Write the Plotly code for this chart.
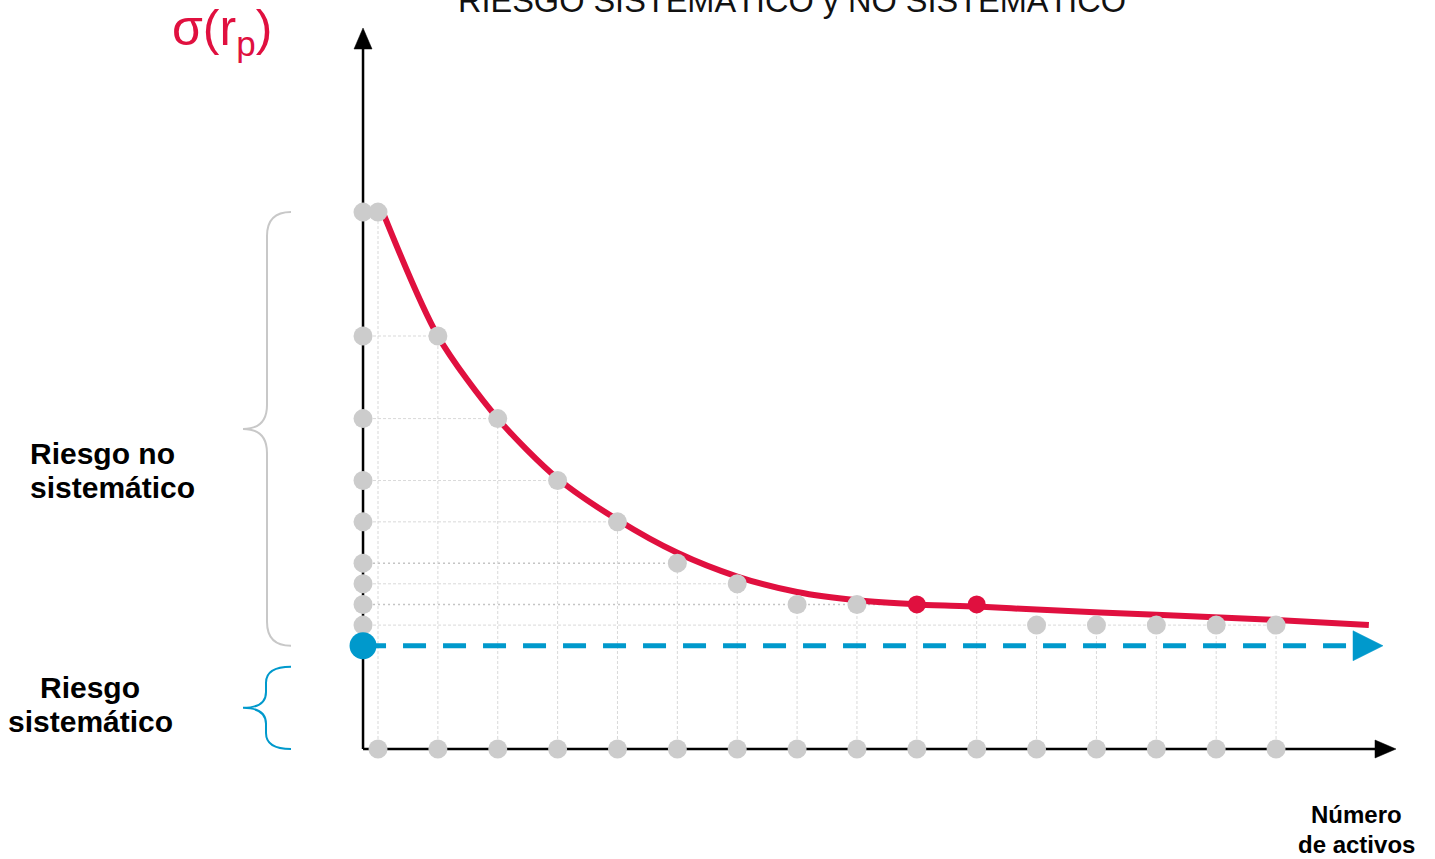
import plotly.graph_objects as go

# ---------------- data ----------------
n_assets = list(range(1, 17))
risk_points = [26, 20, 16, 13, 11, 9, 8, 7, 7, 7, 7, 6, 6, 6, 6, 6]
highlight_assets = [10, 11]
yaxis_levels = [26, 20, 16, 13, 11, 9, 8, 7, 6]
dotted_levels = [9, 7]
systematic_risk = 5
curve_n = [1.08, 2, 3, 4, 5, 6, 7, 8, 9, 10, 11, 12, 14, 16, 17.55]
curve_risk = [26, 20, 16, 13.1, 11.1, 9.5, 8.35, 7.6, 7.2, 7.0, 6.9, 6.75, 6.5, 6.25, 6.0]
title_text = "RIESGO SISTEMÁTICO y NO SISTEMÁTICO"
axis_pos_n = 0.75

# ---------------- scale helpers (pixel <-> data) ----------------
W, H = 1435, 859
PX_PER_N = 59.87
PX_PER_V = 20.65
N1_PX = 378
V0_PY = 749


def n_of(px):
    return 1 + (px - N1_PX) / PX_PER_N


def v_of(py):
    return (V0_PY - py) / PX_PER_V


def px_of(n):
    return N1_PX + (n - 1) * PX_PER_N


def py_of(v):
    return V0_PY - v * PX_PER_V


RED = "#e0103f"
BLUE = "#0099cc"
GRAY_DOT = "#cccccc"
GRID = "#d9d9d9"

fig = go.Figure()

# vertical guides from x-axis up to each point
vx, vy = [], []
for n, r in zip(n_assets, risk_points):
    vx += [n, n, None]
    vy += [0, r, None]
fig.add_trace(go.Scatter(x=vx, y=vy, mode="lines", hoverinfo="skip",
                         line=dict(color=GRID, width=1, dash="3px,2px")))

# horizontal guides from y-axis to the last point at that level
hx, hy, dx, dy = [], [], [], []
for lvl in yaxis_levels:
    last_n = max(n for n, r in zip(n_assets, risk_points) if r == lvl)
    if lvl in dotted_levels:
        dx += [axis_pos_n, last_n, None]
        dy += [lvl, lvl, None]
    else:
        hx += [axis_pos_n, last_n, None]
        hy += [lvl, lvl, None]
fig.add_trace(go.Scatter(x=hx, y=hy, mode="lines", hoverinfo="skip",
                         line=dict(color=GRID, width=1, dash="3px,2px")))
fig.add_trace(go.Scatter(x=dx, y=dy, mode="lines", hoverinfo="skip",
                         line=dict(color="#c4c4c4", width=1.5, dash="2px,3px")))

# axes lines
y_top = v_of(46)
x_end = n_of(1377)
fig.add_trace(go.Scatter(x=[axis_pos_n, axis_pos_n], y=[0, y_top], mode="lines",
                         hoverinfo="skip", line=dict(color="black", width=2.5)))
fig.add_trace(go.Scatter(x=[axis_pos_n, x_end], y=[0, 0], mode="lines",
                         hoverinfo="skip", line=dict(color="black", width=2.5)))

# arrowheads
ax_px = px_of(axis_pos_n)
fig.add_trace(go.Scatter(
    x=[n_of(ax_px - 9), n_of(ax_px + 9), axis_pos_n, n_of(ax_px - 9)],
    y=[v_of(49), v_of(49), v_of(28), v_of(49)],
    mode="lines", fill="toself", fillcolor="black", hoverinfo="skip",
    line=dict(color="black", width=0.5)))
fig.add_trace(go.Scatter(
    x=[n_of(1375), n_of(1375), n_of(1396), n_of(1375)],
    y=[v_of(V0_PY - 9), v_of(V0_PY + 9), 0, v_of(V0_PY - 9)],
    mode="lines", fill="toself", fillcolor="black", hoverinfo="skip",
    line=dict(color="black", width=0.5)))

# systematic risk dashed line + arrow
sys_py = py_of(systematic_risk)
fig.add_trace(go.Scatter(x=[axis_pos_n, n_of(1356)], y=[systematic_risk, systematic_risk],
                         mode="lines", hoverinfo="skip",
                         line=dict(color=BLUE, width=5, dash="23px,17px")))
fig.add_trace(go.Scatter(
    x=[n_of(1353), n_of(1353), n_of(1383), n_of(1353)],
    y=[v_of(sys_py - 15), v_of(sys_py + 15), systematic_risk, v_of(sys_py - 15)],
    mode="lines", fill="toself", fillcolor=BLUE, hoverinfo="skip",
    line=dict(color=BLUE, width=0.5)))

# risk curve
fig.add_trace(go.Scatter(x=curve_n, y=curve_risk, mode="lines", hoverinfo="skip",
                         line=dict(color=RED, width=6, shape="spline", smoothing=0.8)))

# dots
dot = dict(size=19, color=GRAY_DOT)
fig.add_trace(go.Scatter(x=n_assets, y=[0] * len(n_assets), mode="markers", marker=dot,
                         hoverinfo="skip"))
fig.add_trace(go.Scatter(x=[axis_pos_n] * len(yaxis_levels), y=yaxis_levels, mode="markers",
                         marker=dot, hoverinfo="skip"))
gx = [n for n in n_assets if n not in highlight_assets]
gy = [r for n, r in zip(n_assets, risk_points) if n not in highlight_assets]
fig.add_trace(go.Scatter(x=gx, y=gy, mode="markers", marker=dot, hoverinfo="skip"))
rx = [n for n in n_assets if n in highlight_assets]
ry = [r for n, r in zip(n_assets, risk_points) if n in highlight_assets]
fig.add_trace(go.Scatter(x=rx, y=ry, mode="markers", marker=dict(size=18, color=RED),
                         hoverinfo="skip"))
fig.add_trace(go.Scatter(x=[axis_pos_n], y=[systematic_risk], mode="markers",
                         marker=dict(size=27, color=BLUE), hoverinfo="skip"))


# braces (pixel geometry)
def brace(t, b, tip_px, spine_px, end_px, r):
    m = (t + b) / 2
    pts = [
        ("M", end_px, t),
        ("Q", spine_px, t, spine_px, t + r),
        ("L", spine_px, m - r),
        ("Q", spine_px, m, tip_px, m),
        ("Q", spine_px, m, spine_px, m + r),
        ("L", spine_px, b - r),
        ("Q", spine_px, b, end_px, b),
    ]
    out = []
    for p in pts:
        cmd, coords = p[0], p[1:]
        xy = []
        for i in range(0, len(coords), 2):
            xy.append(f"{n_of(coords[i]):.5f},{v_of(coords[i + 1]):.5f}")
        out.append(cmd + " " + " ".join(xy))
    return " ".join(out)


fig.add_shape(type="path", xref="x", yref="y",
              path=brace(py_of(max(yaxis_levels)), sys_py, 243, 267, 291, 24),
              line=dict(color="#c8c8c8", width=2))
fig.add_shape(type="path", xref="x", yref="y",
              path=brace(sys_py + 21, py_of(0), 243, 266, 291, 16),
              line=dict(color=BLUE, width=2))

# texts
FONT = "Liberation Sans, Arial, sans-serif"
ann = []
ann.append(dict(x=792 / W, y=1 - 1 / H, xref="paper", yref="paper", text=title_text,
                showarrow=False, font=dict(family=FONT, size=32.5, color="#111111"),
                xanchor="center", yanchor="middle"))
ann.append(dict(x=n_of(222), y=v_of(31), text="σ(r<sub>p</sub>)", showarrow=False,
                font=dict(family=FONT, size=50, color=RED),
                xanchor="center", yanchor="middle"))
for txt, px, py, anchor in [("Riesgo no", 28, 453, "left"), ("sistemático", 28, 487, "left"),
                            ("Riesgo", 90, 687, "center"), ("sistemático", 90, 721, "center")]:
    ann.append(dict(x=n_of(px), y=v_of(py), text=f"<b>{txt}</b>", showarrow=False,
                    font=dict(family=FONT, size=30, color="black"),
                    xanchor=anchor, yanchor="middle"))
for txt, py in [("Número", 814), ("de activos", 844)]:
    ann.append(dict(x=n_of(1356), y=v_of(py), text=f"<b>{txt}</b>", showarrow=False,
                    font=dict(family=FONT, size=24, color="black"),
                    xanchor="center", yanchor="middle"))

fig.update_layout(
    width=W, height=H, margin=dict(l=0, r=0, t=0, b=0),
    paper_bgcolor="white", plot_bgcolor="white", showlegend=False,
    xaxis=dict(range=[n_of(0), n_of(W)], visible=False, fixedrange=True),
    yaxis=dict(range=[v_of(H), v_of(0)], visible=False, fixedrange=True),
    annotations=ann,
)

fig.write_html("out.html", config={"displayModeBar": False},
               post_script="document.body.style.margin='0';document.body.style.overflow='hidden';")
